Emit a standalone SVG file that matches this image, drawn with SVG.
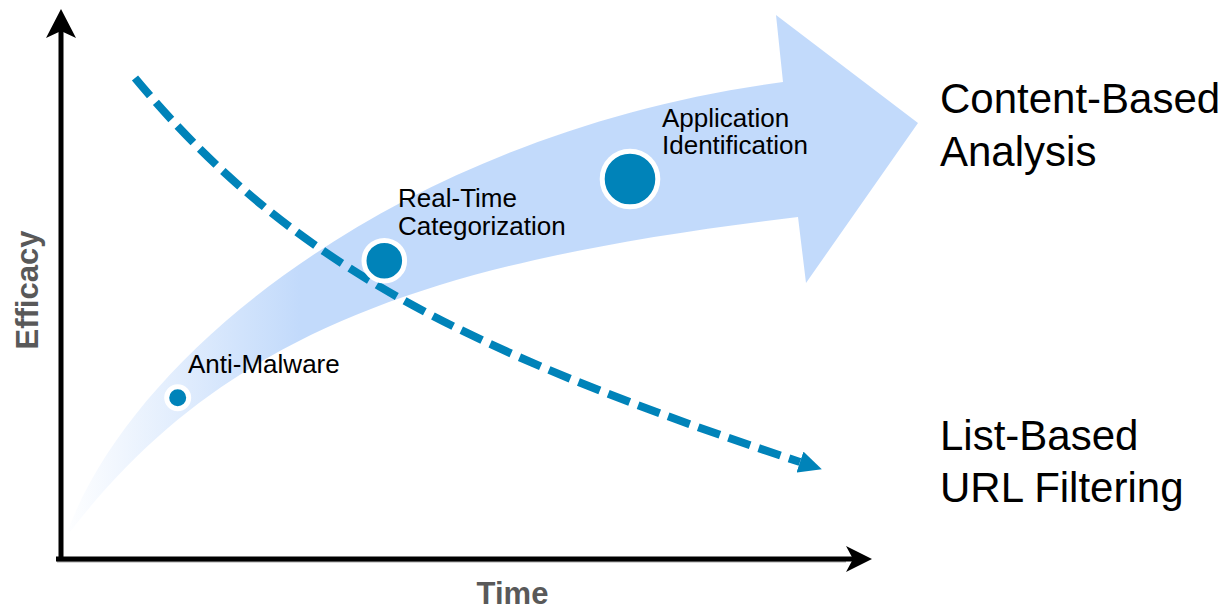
<svg xmlns="http://www.w3.org/2000/svg" width="1227" height="609" viewBox="0 0 1227 609">
<style>
.lbl{font-family:"Liberation Sans",Arial,sans-serif;font-size:26px;fill:#000}
.big{font-family:"Liberation Sans",Arial,sans-serif;font-size:42px;fill:#000}
.axl{font-family:"Liberation Sans",Arial,sans-serif;font-size:31px;font-weight:bold;fill:#595959}
.dot{fill:#0083B9;stroke:#fff;stroke-width:5}
.axis{stroke:#000;stroke-width:5;fill:none}
</style>
<defs>
<linearGradient id="fade" gradientUnits="userSpaceOnUse" x1="62" y1="0" x2="300" y2="0">
<stop offset="0" stop-color="#ffffff"/>
<stop offset="1" stop-color="#c2dafb"/>
</linearGradient>
<marker id="dashHead" markerUnits="userSpaceOnUse" markerWidth="23" markerHeight="22" refX="0" refY="11" orient="auto" viewBox="0 0 23 22">
<path d="M0,0 L23,11 L0,22 Z" fill="#0083B9"/>
</marker>
</defs>
<rect width="1227" height="609" fill="#fff"/>
<g id="growth-arrow">
<path d="M68,530 C140,340 420,130 783,82 L776,15 L918,123 L806,283 L798,217 C448,259 230,324 70,532 Z" fill="url(#fade)"/>
</g>
<g id="axes">
<line x1="57" y1="561.8" x2="846" y2="561.8" stroke="#aaa" stroke-width="1.5"/>
<line class="axis" x1="61" y1="561" x2="61" y2="30"/>
<path d="M61,9 L76,38 L61,31 L46,38 Z" fill="#000"/>
<line class="axis" x1="56" y1="559" x2="855" y2="559"/>
<path d="M872,559 L846,546 L853,559 L846,572 Z" fill="#000"/>
</g>
<g id="connectors">
<path d="M135,78 C285,258 451,346.5 800,462" fill="none" stroke="#0083B9" stroke-width="8" stroke-dasharray="23 9" marker-end="url(#dashHead)"/>
</g>
<g id="node-anti-malware">
<circle class="dot" cx="177.7" cy="397.7" r="11"/>
<text class="lbl" x="188" y="373">Anti-Malware</text>
</g>
<g id="node-real-time">
<circle class="dot" cx="384.3" cy="260.7" r="20.3"/>
<text class="lbl" x="398" y="207">Real-Time</text>
<text class="lbl" x="398" y="235">Categorization</text>
</g>
<g id="node-application">
<circle class="dot" cx="630" cy="179" r="27.8"/>
<text class="lbl" x="662" y="127">Application</text>
<text class="lbl" x="662" y="154">Identification</text>
</g>
<g id="label-content">
<text class="big" x="940" y="113">Content-Based</text>
<text class="big" x="940" y="166">Analysis</text>
</g>
<g id="label-list">
<text class="big" x="940" y="450">List-Based</text>
<text class="big" x="940" y="502">URL Filtering</text>
</g>
<g id="axis-labels">
<text class="axl" x="512.5" y="604" text-anchor="middle">Time</text>
<text class="axl" transform="translate(38,290) rotate(-90)" text-anchor="middle">Efficacy</text>
</g>
</svg>
